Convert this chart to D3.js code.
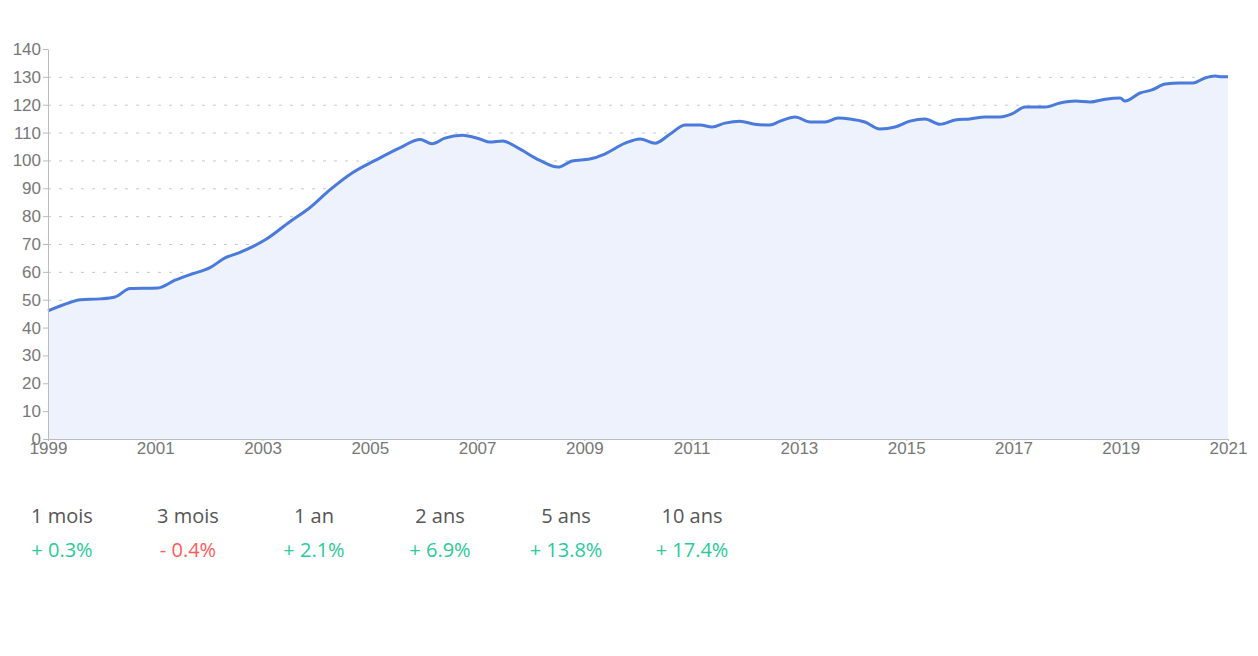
<!DOCTYPE html>
<html><head><meta charset="utf-8">
<script src="https://cdn.jsdelivr.net/npm/d3@7"></script>
<style>
body{margin:0;background:#fff;font-family:"Liberation Sans",Arial,sans-serif}
.axis text{fill:#777;font-size:17px}
.axis path,.axis line{stroke:#bbb}
.grid line{stroke:#c8c8c8;stroke-dasharray:3,8}
.grid path{display:none}
</style></head><body>
<svg width="1258" height="656"></svg>
<script>
const years = [1999.0,1999.41,1999.6,1999.97,2000.25,2000.53,2001.05,2001.37,2001.65,2002.02,2002.3,2002.58,2003.05,2003.51,2003.88,2004.26,2004.67,2005.1,2005.56,2005.94,2006.16,2006.4,2006.72,2007.05,2007.24,2007.48,2007.76,2008.17,2008.51,2008.77,2009.1,2009.38,2009.76,2010.04,2010.32,2010.6,2010.88,2011.16,2011.38,2011.62,2011.9,2012.18,2012.46,2012.65,2012.93,2013.21,2013.49,2013.73,2013.95,2014.23,2014.51,2014.79,2015.07,2015.35,2015.63,2015.91,2016.19,2016.47,2016.75,2016.97,2017.22,2017.59,2017.87,2018.15,2018.43,2018.71,2018.99,2019.08,2019.36,2019.58,2019.83,2020.1,2020.35,2020.57,2020.76,2020.89,2021.0];
const values = [46,49,50,50.3,51,54,54.2,57,59,61.5,65,67,71.5,78,83,89.5,95.5,100,104.5,107.5,106,108,109,107.7,106.6,107,104.5,100,97.6,99.8,100.5,102.3,106.2,107.7,106.2,109.5,112.7,112.7,112,113.4,114.1,113,112.7,114.1,115.6,113.8,113.8,115.2,114.9,113.8,111.3,112,114.1,114.9,113,114.5,114.9,115.6,115.6,116.7,119.2,119.2,120.6,121.3,121,122,122.4,121.3,124.2,125.3,127.4,127.8,127.8,129.6,130.3,130,130];
const yTicks = d3.range(0, 141, 10);
const xTicks = d3.range(1999, 2022, 2);
const periods = ["1 mois","3 mois","1 an","2 ans","5 ans","10 ans"];
const changes = [0.3,-0.4,2.1,6.9,13.8,17.4];

const margin = {l:48, t:49};
const width = 1228 - 48, height = 439 - 49;
const svg = d3.select("svg").append("g").attr("transform", `translate(${margin.l},${margin.t})`);
const x = d3.scaleLinear().domain([1999, 2021]).range([0, width]);
const y = d3.scaleLinear().domain([0, 140]).range([height, 0]);
const data = years.map((d, i) => ({x: d, v: values[i]}));

// dotted grid
svg.append("g").attr("class","grid")
  .call(d3.axisLeft(y).tickValues(yTicks.slice(0, -1)).tickSize(-width).tickFormat(""));

svg.append("path").datum(data)
  .attr("fill","#eef2fc")
  .attr("d", d3.area().x(d => x(d.x)).y0(height).y1(d => y(d.v)).curve(d3.curveMonotoneX));
svg.append("path").datum(data)
  .attr("fill","none").attr("stroke","#4a7bdc").attr("stroke-width",3)
  .attr("d", d3.line().x(d => x(d.x)).y(d => y(d.v)).curve(d3.curveMonotoneX));

svg.append("g").attr("class","axis")
  .call(d3.axisLeft(y).tickValues(yTicks).tickSize(5).tickPadding(2).tickSizeOuter(0));
svg.append("g").attr("class","axis").attr("transform",`translate(0,${height})`)
  .call(d3.axisBottom(x).tickValues(xTicks).tickFormat(d3.format("d")).tickSize(2).tickPadding(1).tickSizeOuter(0));

// period stats
const stats = d3.select("svg").append("g").attr("font-family","'Open Sans',sans-serif");
const sx = d3.scalePoint().domain(periods).range([62, 692]);
stats.selectAll(".p").data(periods).enter().append("text")
  .attr("x", d => sx(d)).attr("y", 523).attr("text-anchor","middle")
  .attr("fill","#555").attr("font-size",20).text(d => d);
stats.selectAll(".c").data(changes).enter().append("text")
  .attr("x", (d, i) => sx(periods[i])).attr("y", 557).attr("text-anchor","middle")
  .attr("fill", d => d < 0 ? "#ff5b5b" : "#2cc99a").attr("font-size",20)
  .text(d => (d < 0 ? "- " : "+ ") + Math.abs(d).toFixed(1) + "%");
</script>
</body></html>
